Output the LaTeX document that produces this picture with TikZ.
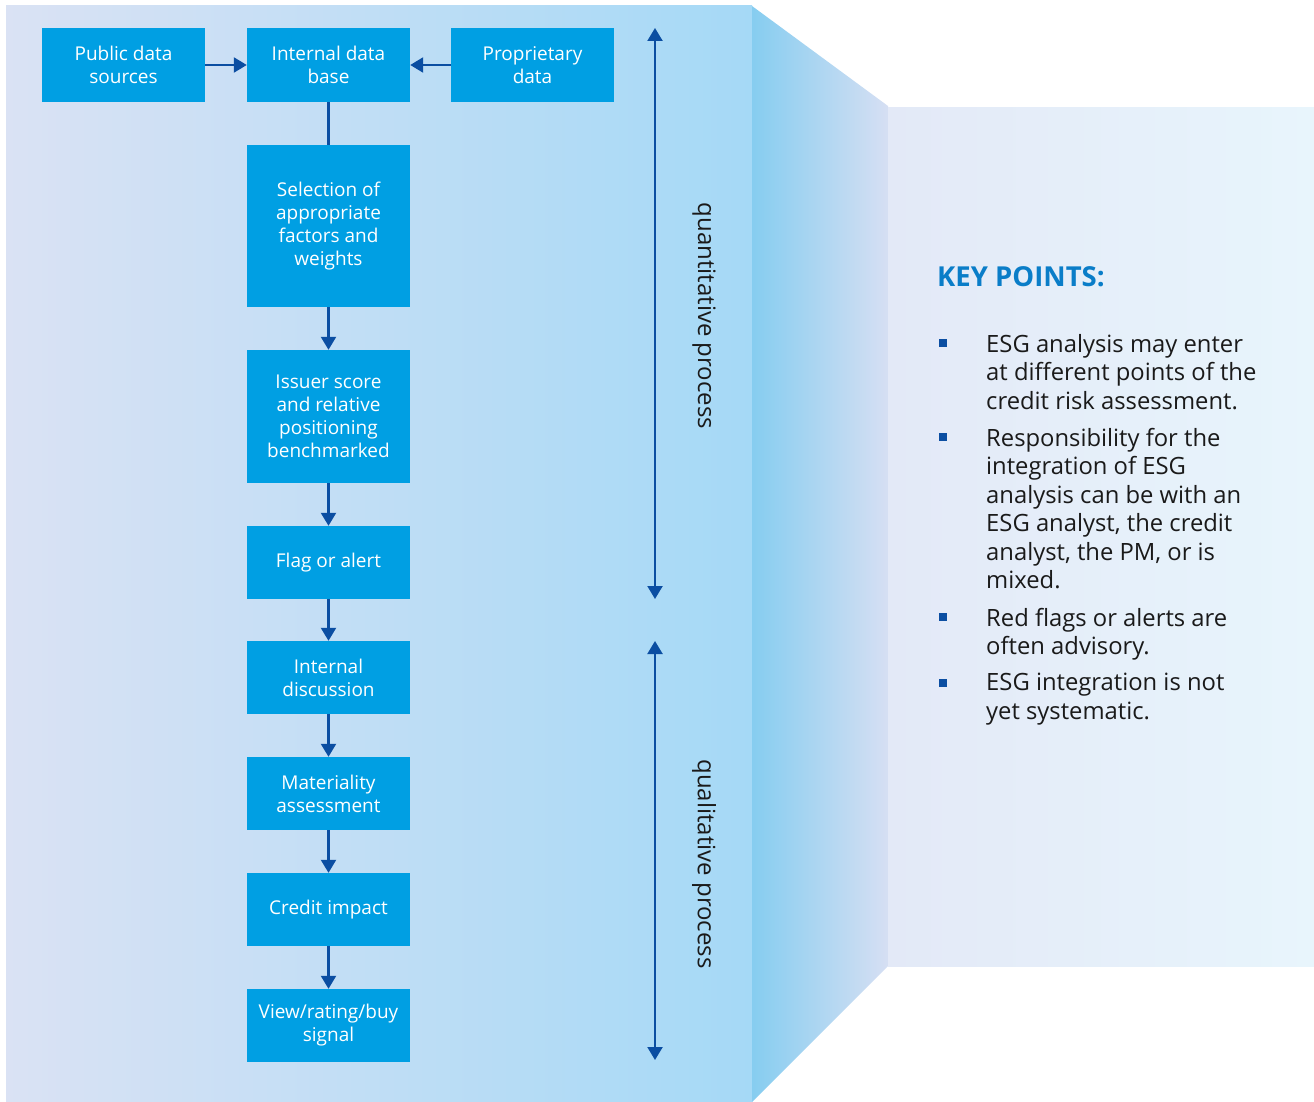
\documentclass[tikz,border=0pt]{standalone}
\usepackage{fontspec}
\setmainfont{Open Sans}
\usetikzlibrary{arrows.meta}
\definecolor{boxblue}{HTML}{009FE3}
\definecolor{linkblue}{HTML}{0B4EA2}
\definecolor{titleblue}{HTML}{0A7DC8}
\definecolor{panelL}{HTML}{DAE2F4}
\definecolor{panelR}{HTML}{A5D9F6}
\definecolor{foldL}{HTML}{86CDF0}
\definecolor{foldR}{HTML}{D6DFF3}
\definecolor{rightL}{HTML}{E3E9F7}
\definecolor{rightR}{HTML}{E8F5FC}
\definecolor{txt}{HTML}{1A1A1A}
\tikzset{
  flowbox/.style={fill=boxblue, text=white, minimum width=163pt, inner sep=0pt,
    align=center, font=\fontsize{19}{23}\selectfont},
  link/.style={draw=linkblue, line width=2.2pt, -{Triangle[width=15pt,length=13pt]}},
  plainlink/.style={draw=linkblue, line width=2.2pt},
  span/.style={draw=linkblue, line width=2.2pt, {Triangle[width=15pt,length=13pt]}-{Triangle[width=15pt,length=13pt]}},
  sidelabel/.style={rotate=-90, text=txt, font=\fontsize{24}{28}\selectfont},
  keytext/.style={anchor=north west, align=left, text=txt, inner sep=0pt,
    font=\fontsize{23.8}{28.5}\selectfont},
  bulletsq/.style={fill=linkblue, minimum size=8pt, inner sep=0pt}
}
\begin{document}
\begin{tikzpicture}[x=1pt,y=-1pt]
\useasboundingbox (0,0) rectangle (1314,1102);
% panels
\shade[left color=panelL, right color=panelR] (6,6) rectangle (752,1102);
\shade[left color=foldL, right color=foldR] (752,6) -- (888,106) -- (888,966) -- (752,1102) -- cycle;
\shade[left color=rightL, right color=rightR] (888,108) rectangle (1314,966);
% flow boxes
\node[flowbox, minimum height=74pt] (pub) at (123.5,65) {Public data\\sources};
\node[flowbox, minimum height=74pt] (idb) at (328.5,65) {Internal data\\base};
\node[flowbox, minimum height=74pt] (prop) at (532.5,65) {Proprietary\\data};
\node[flowbox, minimum height=162pt] (sel) at (328.5,226) {Selection of\\appropriate\\factors and\\weights};
\node[flowbox, minimum height=133pt] (iss) at (328.5,416.5) {Issuer score\\and relative\\positioning\\benchmarked};
\node[flowbox, minimum height=73pt] (flag) at (328.5,562.5) {Flag or alert};
\node[flowbox, minimum height=73pt] (disc) at (328.5,677.5) {Internal\\discussion};
\node[flowbox, minimum height=73pt] (mat) at (328.5,793.5) {Materiality\\assessment};
\node[flowbox, minimum height=73pt] (cred) at (328.5,909.5) {Credit impact};
\node[flowbox, minimum height=73pt] (view) at (328.5,1025.5) {View/rating/buy\\signal};
% connectors
\draw[link] (pub.east) -- (idb.west);
\draw[link] (prop.west) -- (idb.east);
\draw[plainlink] (idb.south) -- (sel.north);
\draw[link] (sel) -- (iss);
\draw[link] (iss) -- (flag);
\draw[link] (flag) -- (disc);
\draw[link] (disc) -- (mat);
\draw[link] (mat) -- (cred);
\draw[link] (cred) -- (view);
% process spans
\coordinate (qtop) at (655,28);
\coordinate (qbot) at (655,599);
\coordinate (ltop) at (655,641);
\coordinate (lbot) at (655,1060);
\draw[span] (qtop) -- (qbot);
\draw[span] (ltop) -- (lbot);
\node[sidelabel] (qlab) at (704,316) {quantitative process};
\node[sidelabel] (llab) at (704,864) {qualitative process};
% key points
\node[anchor=base west, inner sep=0pt, text=titleblue, font=\fontsize{27.5}{32}\selectfont\bfseries] (kp) at (937,286) {KEY POINTS:};
\node[keytext] (k1) at (986,334) {ESG analysis may enter\\at different points of the\\credit risk assessment.};
\node[keytext] (k2) at (986,428) {Responsibility for the\\integration of ESG\\analysis can be with an\\ESG analyst, the credit\\analyst, the PM, or is\\mixed.};
\node[keytext] (k3) at (986,608) {Red flags or alerts are\\often advisory.};
\node[keytext] (k4) at (986,673) {ESG integration is not\\yet systematic.};
\node[bulletsq] (b1) at (943,343) {};
\node[bulletsq] (b2) at (943,437) {};
\node[bulletsq] (b3) at (943,617) {};
\node[bulletsq] (b4) at (943,683) {};
\end{tikzpicture}
\end{document}
